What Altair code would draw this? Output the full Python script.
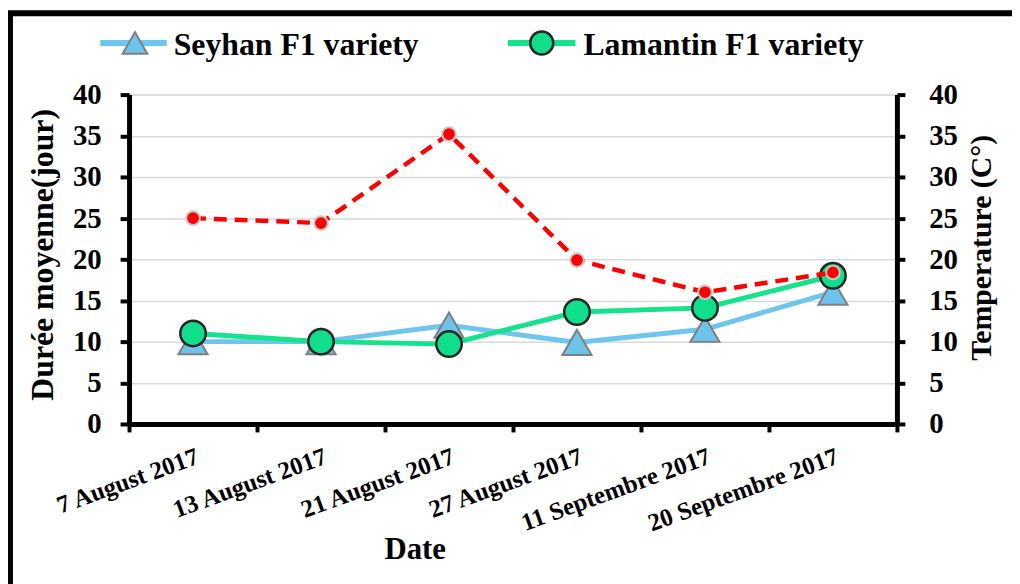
import altair as alt
import pandas as pd

dates = ["7 August 2017", "13 August 2017", "21 August 2017",
         "27 August 2017", "11 Septembre 2017", "20 Septembre 2017"]
seyhan = [10, 10, 12, 9.9, 11.5, 16]
lamantin = [11, 10, 9.7, 13.6, 14.1, 18]
temperature = [25, 24.4, 35.2, 19.9, 16, 18.4]

legend_labels = ["Seyhan F1 variety", "Lamantin F1 variety"]

df = pd.DataFrame({"Date": dates, "Seyhan": seyhan,
                   "Lamantin": lamantin, "Temp": temperature})

FONT = "Liberation Serif"
W, H = 774, 332

x_enc = alt.X("Date:N", sort=dates,
              scale=alt.Scale(paddingInner=0, paddingOuter=0),
              axis=alt.Axis(title="Date", tickBand="extent", labelAngle=340,
                            labelAlign="right", labelBaseline="top", labelLimit=0,
                            labelFontSize=25, labelFont=FONT, labelFontWeight="bold",
                            labelPadding=12, tickSize=8, tickWidth=4, tickColor="black",
                            domainColor="black", domainWidth=5,
                            titleFont=FONT, titleFontSize=31, titleFontWeight="bold",
                            titleX=288, titleY=112, titleColor="black",
                            labelColor="black", grid=False))

y_left = alt.Scale(domain=[0, 40])
y_right = alt.Scale(domain=[0, 40])
left_axis = alt.Axis(title="Durée moyenne(jour)", values=list(range(0, 41, 5)),
                     labelFont=FONT, labelFontSize=29, labelFontWeight="bold",
                     labelColor="black", labelPadding=19, tickSize=9, tickWidth=4,
                     tickColor="black", domainColor="black", domainWidth=5,
                     grid=True, gridColor="#D9D9D9", gridWidth=1.5,
                     titleFont=FONT, titleFontSize=32, titleFontWeight="bold",
                     titleColor="black", titleX=-87, titleY=161, titleAngle=270,
                     titleBaseline="middle", titleAlign="center")
right_axis = alt.Axis(title="Temperature (C°)", orient="right", values=list(range(0, 41, 5)),
                      labelFont=FONT, labelFontSize=29, labelFontWeight="bold",
                      labelColor="black", labelPadding=24, labelAlign="left",
                      tickSize=8, tickWidth=4,
                      tickColor="black", domainColor="black", domainWidth=5,
                      grid=False,
                      titleFont=FONT, titleFontSize=30, titleFontWeight="bold",
                      titleColor="black", titleX=85, titleY=154, titleAngle=270,
                      titleBaseline="middle", titleAlign="center")

base = alt.Chart(df).encode(x=x_enc)

sey_line = base.mark_line(color="#6EC6EE", strokeWidth=5).encode(
    y=alt.Y("Seyhan:Q", scale=y_left, axis=left_axis))
sey_pts = base.mark_point(shape="triangle-up", filled=True, fill="#6DC3EC",
                          stroke="#7F7F7F", strokeWidth=2, size=860, opacity=1).encode(
    y=alt.Y("Seyhan:Q", scale=y_left, axis=left_axis))
lam_line = base.mark_line(color="#14E38C", strokeWidth=5).encode(
    y=alt.Y("Lamantin:Q", scale=y_left, axis=left_axis))
lam_pts = base.mark_point(shape="circle", filled=True, fill="#10DE8A",
                          stroke="#262626", strokeWidth=2.5, size=660, opacity=1).encode(
    y=alt.Y("Lamantin:Q", scale=y_left, axis=left_axis))

left = alt.layer(sey_line, sey_pts, lam_line, lam_pts)

tmp_line = base.mark_line(color="#FF0000", strokeWidth=4.5, strokeDash=[13, 8]).encode(
    y=alt.Y("Temp:Q", scale=y_right, axis=right_axis))
tmp_pts = base.mark_point(shape="circle", filled=True, fill="#FF0000",
                          stroke="#C8C8C8", strokeWidth=2, size=190, opacity=1).encode(
    y=alt.Y("Temp:Q", scale=y_right, axis=right_axis))
right = alt.layer(tmp_line, tmp_pts)

one = alt.Chart(pd.DataFrame({"k": [0]}))

border = one.mark_rect(fill=None, stroke="black", strokeWidth=6).encode(
    x=alt.value(-120), x2=alt.value(920), y=alt.value(-82), y2=alt.value(520))

leg1_line = one.mark_rule(color="#6EC6EE", strokeWidth=6).encode(
    x=alt.value(-29), x2=alt.value(38), y=alt.value(-52))
leg1_pt = one.mark_point(shape="triangle-up", filled=True, fill="#6DC3EC",
                         stroke="#7F7F7F", strokeWidth=2, size=620, opacity=1).encode(
    x=alt.value(6), y=alt.value(-52))
leg1_txt = one.mark_text(text=legend_labels[0], font=FONT, fontSize=32, fontWeight="bold",
                         align="left", baseline="middle", color="black").encode(
    x=alt.value(45), y=alt.value(-50))
leg2_line = one.mark_rule(color="#14E38C", strokeWidth=6).encode(
    x=alt.value(382), x2=alt.value(450), y=alt.value(-52))
leg2_pt = one.mark_point(shape="circle", filled=True, fill="#10DE8A",
                         stroke="#262626", strokeWidth=2.5, size=540, opacity=1).encode(
    x=alt.value(416), y=alt.value(-52))
leg2_txt = one.mark_text(text=legend_labels[1], font=FONT, fontSize=32, fontWeight="bold",
                         align="left", baseline="middle", color="black").encode(
    x=alt.value(458), y=alt.value(-50))

deco = alt.layer(border, leg1_line, leg1_pt, leg1_txt, leg2_line, leg2_pt, leg2_txt)

chart = alt.layer(left, right, deco).resolve_scale(y="independent").properties(
    width=W, height=H,
    autosize=alt.AutoSizeParams(type="none"),
    padding={"left": 122, "top": 85, "right": 116, "bottom": 159},
).configure_view(stroke=None).configure(background="white")

chart.save("out.html", embed_options={"renderer": "svg", "actions": False})
